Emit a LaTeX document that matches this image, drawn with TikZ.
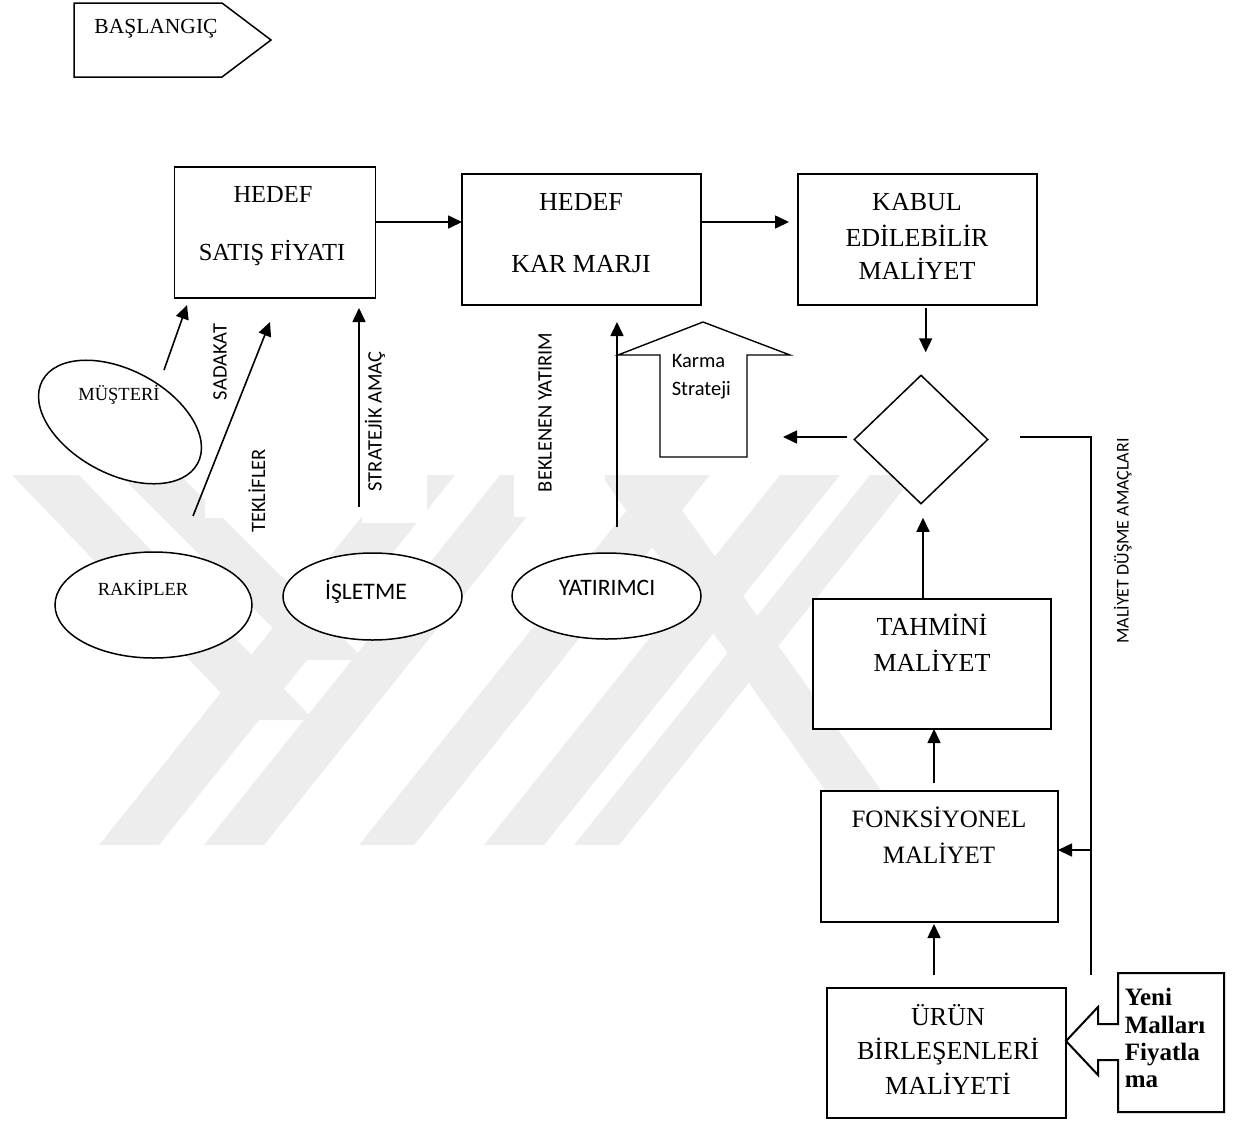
\documentclass[tikz,border=0pt]{standalone}
\usepackage{fontspec}
\setmainfont{Liberation Serif}
\newfontfamily\calibri{Carlito}
\usetikzlibrary{arrows.meta,shapes.geometric}

\begin{document}
\begin{tikzpicture}[x=1pt,y=-1pt,
  line width=1.6pt,
  >={Triangle[length=14pt,width=13pt]},
  box/.style={draw,fill=white,line width=1.6pt,inner sep=0pt,outer sep=0pt},
  oval/.style={ellipse,draw,fill=white,line width=1.5pt,inner sep=0pt,outer sep=0pt},
  tnr/.style={font=\fontsize{#1}{#1}\selectfont,inner sep=0pt,anchor=base},
  tnrb/.style={font=\bfseries\fontsize{#1}{#1}\selectfont,inner sep=0pt,anchor=base west},
  cal/.style={font=\calibri\fontsize{#1}{#1}\selectfont,inner sep=0pt,anchor=base},
  vlabel/.style={font=\calibri\fontsize{#1}{#1}\selectfont,rotate=90,inner sep=0pt,
    text height=13pt,text depth=0pt,anchor=center},
  logoband/.style={fill=black!7,draw=none}
]
\useasboundingbox (0,0) rectangle (1241,1122);

% faint background logo
\begin{scope}
  \clip (0,475) rectangle (1241,845);
  \fill[logoband] (12,475) -- (79,475) -- (314,720) -- (247,720) -- cycle;
  \fill[logoband] (120,475) -- (180,475) -- (365,660) -- (305,660) -- cycle;
  \fill[logoband] (395,475) -- (455,475) -- (159,845) -- (99,845) -- cycle;
  \fill[logoband] (500,475) -- (560,475) -- (264,845) -- (204,845) -- cycle;
  \fill[logoband] (655,475) -- (710,475) -- (414,845) -- (359,845) -- cycle;
  \fill[logoband] (780,475) -- (840,475) -- (544,845) -- (484,845) -- cycle;
  \fill[logoband] (870,475) -- (915,475) -- (619,845) -- (574,845) -- cycle;
  \fill[logoband] (601,475) -- (657,475) -- (920,845) -- (864,845) -- cycle;
\end{scope}

% white text-box backgrounds of the side labels
\fill[white] (514,303) rectangle (605,517);
\fill[white] (362,303) rectangle (427,523);
\fill[white] (205,440) rectangle (275,518);

% start flag
\draw[line width=1.5pt] (74,3) -- (222,3) -- (271,40) -- (222,77) -- (74,77) -- cycle;
\node[tnr=21.5] (start) at (156,33) {BAŞLANGIÇ};

% main row of boxes
\node[box,minimum width=201pt,minimum height=131pt] (sale) at (275,232.5) {};
\node[tnr=24.5] (sale1) at (273,202) {HEDEF};
\node[tnr=24.5] (sale2) at (272,260) {SATIŞ FİYATI};

\node[box,minimum width=239pt,minimum height=131pt] (margin) at (581.5,239.5) {};
\node[tnr=26] (margin1) at (581,210) {HEDEF};
\node[tnr=26] (margin2) at (581,272) {KAR MARJI};

\node[box,minimum width=239pt,minimum height=131pt] (accept) at (917.5,239.5) {};
\node[tnr=26] (accept1) at (917,210) {KABUL};
\node[tnr=26] (accept2) at (917,246) {EDİLEBİLİR};
\node[tnr=26] (accept3) at (917,279) {MALİYET};

\coordinate (row) at (0,222);
\draw[->] (sale.east |- row) -- (margin.west |- row);
\draw[->,shorten >=9pt] (margin.east |- row) -- (accept.west |- row);

% decision
\node[diamond,draw,fill=white,line width=1.5pt,inner sep=0pt,minimum width=134pt,minimum height=129pt] (dec) at (921,439.5) {};
\coordinate (cx1) at (925.7,0);
\draw[->,shorten <=3pt,shorten >=22pt] (accept.south -| cx1) -- (dec.north -| cx1);

\coordinate (lvl) at (0,437);
\coordinate (mixtip) at (783,437);
\draw[->,shorten <=6pt] (dec.west |- lvl) -- (mixtip);

\coordinate (fb1) at (1020,437);
\coordinate (fb2) at (1091,437);
\coordinate (fb3) at (1091,975);
\draw (fb1) -- (fb2) -- (fb3);
\node[vlabel=18] (goals) at (1122,541) {MALİYET DÜŞME AMAÇLARI};

% right column of boxes
\node[box,minimum width=238pt,minimum height=130pt] (est) at (932,664) {};
\node[tnr=26] (est1) at (932,635) {TAHMİNİ};
\node[tnr=26] (est2) at (932,671) {MALİYET};

\node[box,minimum width=237pt,minimum height=131pt] (func) at (939.5,856.5) {};
\node[tnr=25] (func1) at (939,827) {FONKSİYONEL};
\node[tnr=25] (func2) at (939,863) {MALİYET};

\node[box,minimum width=239pt,minimum height=130pt] (parts) at (946.5,1053) {};
\node[tnr=26] (parts1) at (948,1025) {ÜRÜN};
\node[tnr=26] (parts2) at (948,1059) {BİRLEŞENLERİ};
\node[tnr=26] (parts3) at (948,1094) {MALİYETİ};

\coordinate (cx2) at (923,0);
\draw[->,shorten >=13pt] (est.north -| cx2) -- (dec.south -| cx2);
\coordinate (cx3) at (934,0);
\draw[->,shorten <=8pt] (func.north -| cx3) -- (est.south -| cx3);
\draw[->,shorten <=13pt,shorten >=2pt] (parts.north -| cx3) -- (func.south -| cx3);
\coordinate (fy) at (0,850);
\draw[->] (fb2 |- fy) -- (func.east |- fy);

% new products call-out
\draw[line width=2pt,fill=white] (1224,973) -- (1118,973) -- (1118,1024) -- (1098,1024) -- (1098,1007)
  -- (1066,1041) -- (1098,1075) -- (1098,1060) -- (1118,1060) -- (1118,1112) -- (1224,1112) -- cycle;
\node[tnrb=25] (new1) at (1124,1005) {Yeni};
\node[tnrb=25] (new2) at (1124,1033) {Malları};
\node[tnrb=25] (new3) at (1124,1060) {Fiyatla};
\node[tnrb=25] (new4) at (1124,1087) {ma};

% mixed strategy block arrow
\draw[line width=1.4pt,fill=white] (703,322) -- (790,355) -- (747,355) -- (747,457) -- (660,457) -- (660,355) -- (618,355) -- cycle;
\node[cal=20.5,anchor=base west] (mix1) at (671,367) {Karma};
\node[cal=20.5,anchor=base west] (mix2) at (671,395) {Strateji};

% actors
\node[oval,minimum width=176pt,minimum height=104pt,rotate=-28] (cust) at (120,422) {};
\node[tnr=18.5] (custt) at (119,400) {MÜŞTERİ};
\node[oval,minimum width=197pt,minimum height=106pt] (riv) at (153.5,605) {};
\node[tnr=18.5] (rivt) at (143,595) {RAKİPLER};
\node[oval,minimum width=179pt,minimum height=87pt] (firm) at (372.5,596.5) {};
\node[cal=23.7] (firmt) at (366,599) {İŞLETME};
\node[oval,minimum width=189pt,minimum height=86pt] (inv) at (606.5,596) {};
\node[cal=23.6] (invt) at (607,595) {YATIRIMCI};

% influences on the targets
\coordinate (m1) at (164,370);
\coordinate (m2) at (187,305);
\draw[->] (m1) -- (m2);
\node[vlabel=20.5] (loyal) at (220,362) {SADAKAT};

\coordinate (k1) at (193,516);
\coordinate (k2) at (270,322);
\draw[->] (k1) -- (k2);
\node[vlabel=20.5] (offers) at (258.5,491) {TEKLİFLER};

\coordinate (cx4) at (359,0);
\draw[->,shorten <=46pt,shorten >=10pt] (firm.north -| cx4) -- (sale.south -| cx4);
\node[vlabel=20.5] (aim) at (375,421.5) {STRATEJİK AMAÇ};

\coordinate (cx5) at (617,0);
\draw[->,shorten <=26pt,shorten >=17pt] (inv.north -| cx5) -- (margin.south -| cx5);
\node[vlabel=20.5] (ret) at (545,412.5) {BEKLENEN YATIRIM};
\end{tikzpicture}
\end{document}
